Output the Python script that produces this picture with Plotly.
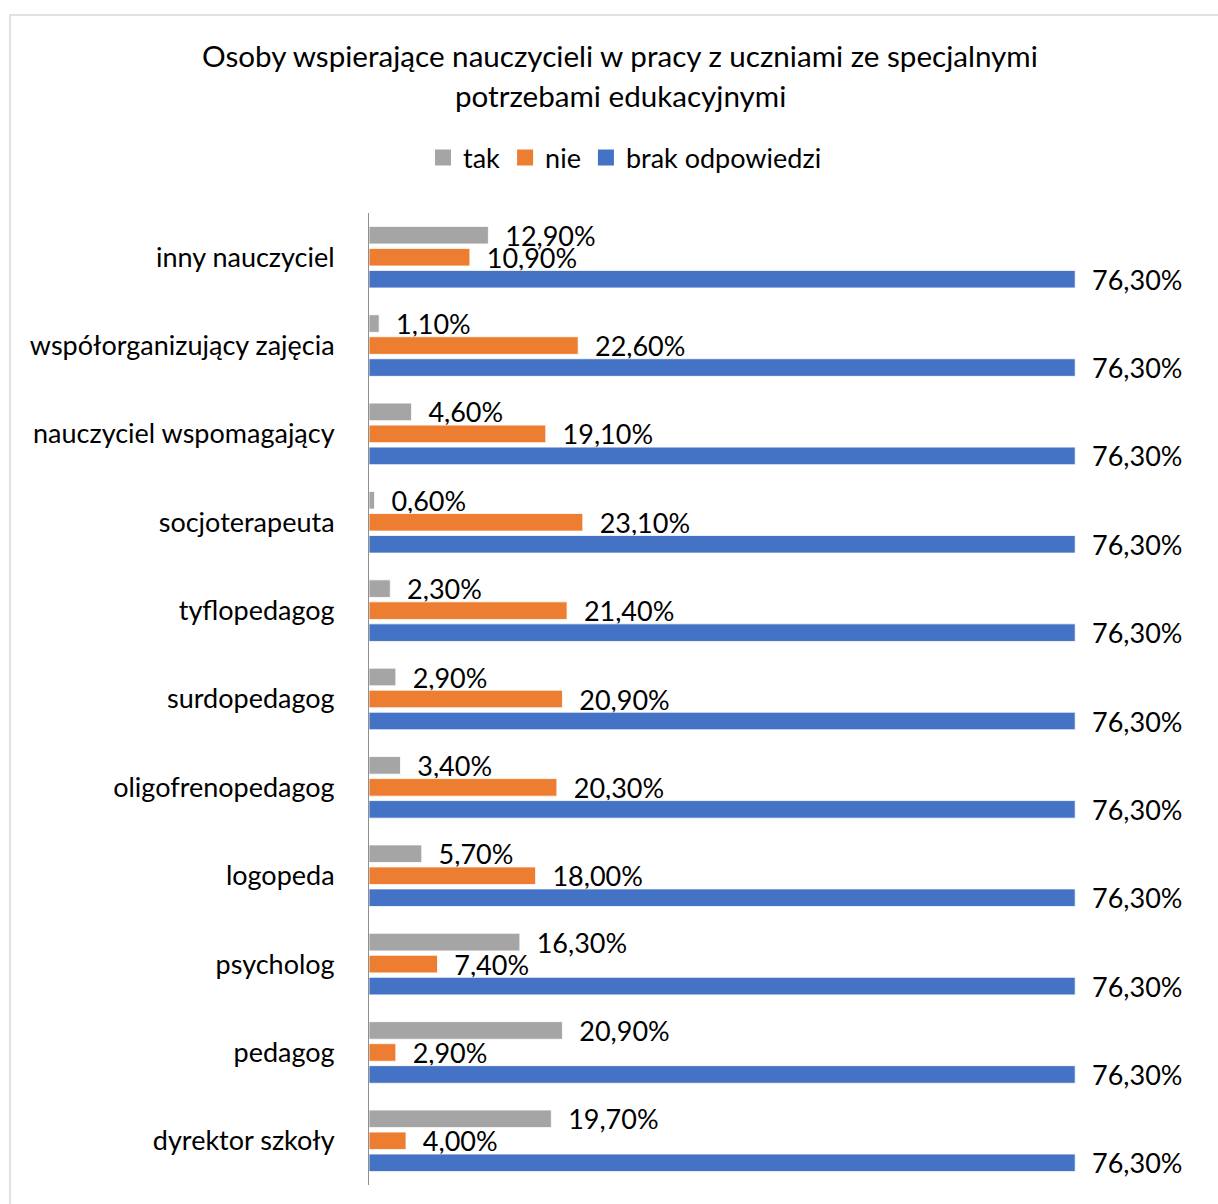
import plotly.graph_objects as go

categories = [
    "inny nauczyciel",
    "współorganizujący zajęcia",
    "nauczyciel wspomagający",
    "socjoterapeuta",
    "tyflopedagog",
    "surdopedagog",
    "oligofrenopedagog",
    "logopeda",
    "psycholog",
    "pedagog",
    "dyrektor szkoły",
]
tak = [12.9, 1.1, 4.6, 0.6, 2.3, 2.9, 3.4, 5.7, 16.3, 20.9, 19.7]
nie = [10.9, 22.6, 19.1, 23.1, 21.4, 20.9, 20.3, 18.0, 7.4, 2.9, 4.0]
brak = [76.3, 76.3, 76.3, 76.3, 76.3, 76.3, 76.3, 76.3, 76.3, 76.3, 76.3]

series_names = ["tak", "nie", "brak odpowiedzi"]
series_values = [tak, nie, brak]
series_colors = ["#A5A5A5", "#ED7D31", "#4472C4"]

FONT = "Lato, Carlito, Calibri, sans-serif"
LABEL_SIZE = 27
TITLE_SIZE = 29.6

W, H = 1218, 1204
L, R, T, B = 369, 16, 213, 19
PW, PH = W - L - R, H - T - B


def px_to_paper_x(px):
    return (px - L) / PW


def px_to_paper_y(py):
    return (H - B - py) / PH


def fmt(v):
    return "\u00a0\u00a0" + f"{v:.2f}".replace(".", ",") + "%"


fig = go.Figure()
for name, vals, col in zip(series_names, series_values, series_colors):
    fig.add_trace(go.Bar(
        name=name,
        y=categories,
        x=vals,
        orientation="h",
        legendgroup=name,
        showlegend=False,
        marker=dict(color=col, line=dict(color="white", width=0.8)),
        text=[fmt(v) for v in vals],
        textposition="outside",
        constraintext="none",
        cliponaxis=False,
        textfont=dict(family=FONT, size=LABEL_SIZE, color="black"),
        hoverinfo="x+y+name",
    ))

# legend entries with larger square swatches (draw nothing in the plot)
for name, col in zip(series_names, series_colors):
    fig.add_trace(go.Scatter(
        name=name,
        x=[None],
        y=[None],
        mode="markers",
        legendgroup=name,
        showlegend=True,
        marker=dict(symbol="square", size=16, color=col),
        hoverinfo="skip",
    ))

fig.update_layout(
    width=W,
    height=H,
    margin=dict(l=L, r=R, t=T, b=B, pad=0),
    paper_bgcolor="white",
    plot_bgcolor="white",
    barmode="group",
    bargap=0.253,
    bargroupgap=0.2,
    font=dict(family=FONT, size=LABEL_SIZE, color="black"),
    xaxis=dict(range=[0, 90], visible=False, showgrid=False, zeroline=False),
    yaxis=dict(
        autorange="reversed",
        showline=True,
        linecolor="#8f8f8f",
        linewidth=1,
        ticks="",
        showgrid=False,
        ticklabelstandoff=28,
        tickfont=dict(family=FONT, size=LABEL_SIZE, color="black"),
    ),
    legend=dict(
        orientation="h",
        x=px_to_paper_x(625),
        xanchor="center",
        y=px_to_paper_y(158),
        yanchor="middle",
        font=dict(family=FONT, size=LABEL_SIZE, color="black"),
        itemwidth=30,
        traceorder="normal",
    ),
    annotations=[
        dict(
            text="Osoby wspierające nauczycieli w pracy z uczniami ze specjalnymi",
            xref="paper", yref="paper",
            x=px_to_paper_x(620), y=px_to_paper_y(55),
            xanchor="center", yanchor="middle",
            showarrow=False,
            font=dict(family=FONT, size=TITLE_SIZE, color="black"),
        ),
        dict(
            text="potrzebami edukacyjnymi",
            xref="paper", yref="paper",
            x=px_to_paper_x(620), y=px_to_paper_y(95),
            xanchor="center", yanchor="middle",
            showarrow=False,
            font=dict(family=FONT, size=TITLE_SIZE, color="black"),
        ),
    ],
    shapes=[
        dict(
            type="rect",
            xref="paper", yref="paper",
            x0=px_to_paper_x(10), x1=px_to_paper_x(1240),
            y0=px_to_paper_y(1230), y1=px_to_paper_y(15),
            line=dict(color="#d9d9d9", width=1.5),
            fillcolor="rgba(0,0,0,0)",
            layer="below",
        )
    ],
)

fig.write_html("out.html")
